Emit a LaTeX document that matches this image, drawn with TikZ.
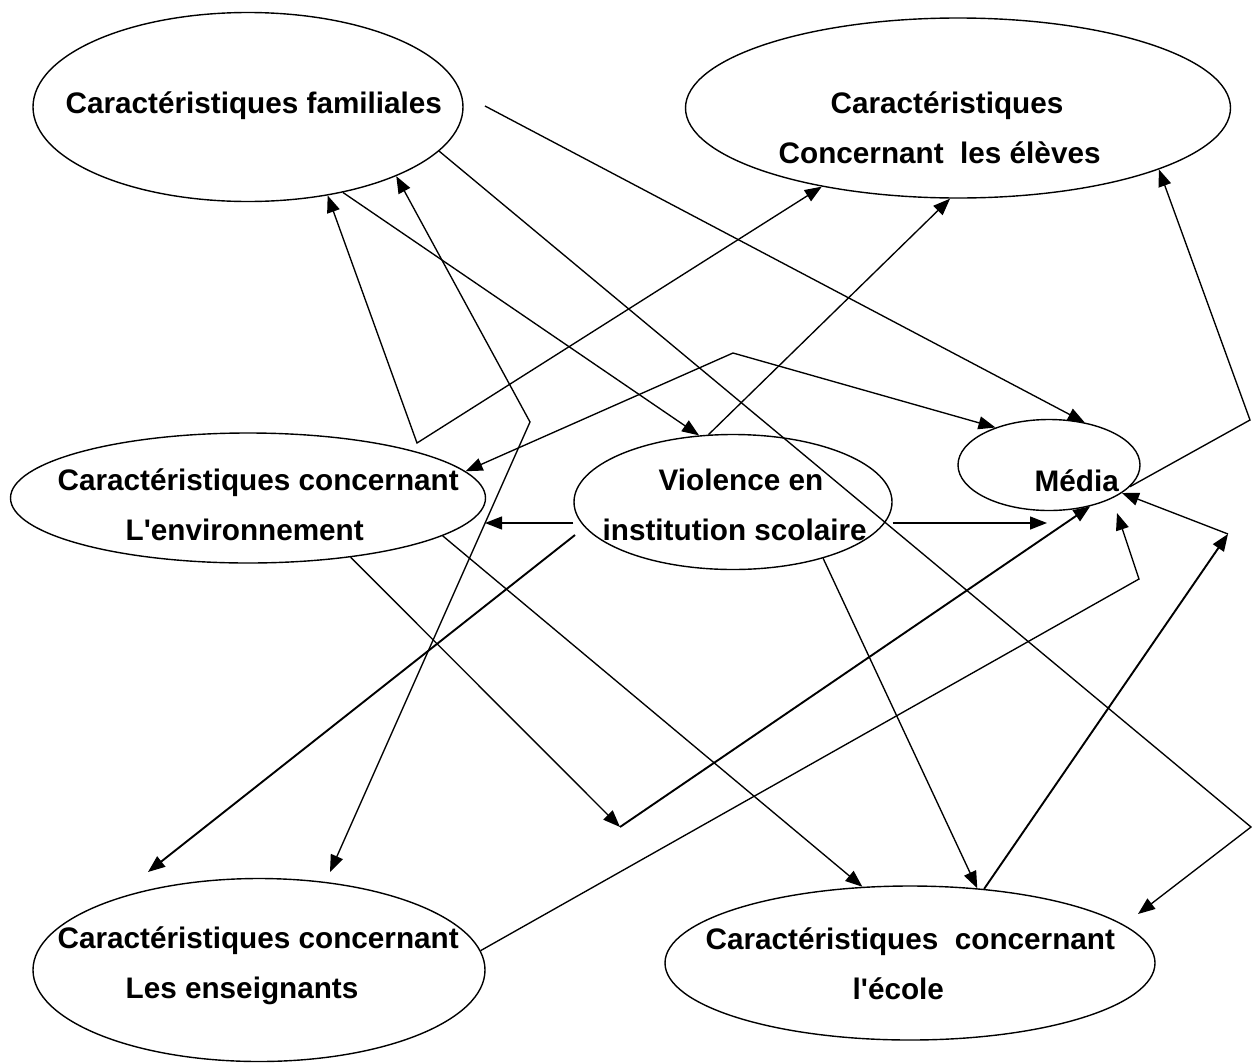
\documentclass[tikz,border=0pt]{standalone}
\usepackage{fontspec}
\setmainfont{Liberation Sans}[Ligatures=TeXOff]
\usetikzlibrary{shapes.geometric, arrows.meta}

\tikzset{
  blob/.style={draw, ellipse, inner sep=0pt, line width=1.4pt},
  txt/.style={font=\bfseries\fontsize{29.7}{50}\selectfont, align=left, inner sep=0pt, anchor=base west},
  heavy/.style={line width=1.9pt},
}

\begin{document}
\begin{tikzpicture}[x=1pt, y=-1pt, line width=1.35pt, >={Triangle[length=17pt,width=13pt]}]
    \useasboundingbox (0,0) rectangle (1252,1063);

    % ellipses
    \node[blob, minimum width=430pt, minimum height=189pt] (fam) at (248,107) {};
    \node[blob, minimum width=545pt, minimum height=180pt] (elv) at (958,108) {};
    \node[blob, minimum width=475pt, minimum height=130pt] (env) at (248,498) {};
    \node[blob, minimum width=318pt, minimum height=135pt] (vio) at (733,502) {};
    \node[blob, minimum width=182pt, minimum height=91pt] (med) at (1049,465) {};
    \node[blob, minimum width=452pt, minimum height=183pt] (ens) at (259,970) {};
    \node[blob, minimum width=490pt, minimum height=154pt] (eco) at (910,963) {};

    % texts (anchored on the last line)
    \node[txt] (famT) at (65,113) {Caractéristiques familiales};
    \node[txt] (elvT) at (778,163) {\hspace*{52pt}Caractéristiques\\Concernant\ \ les élèves};
    \node[txt] (envT) at (57,540) {Caractéristiques concernant\\\hspace*{68pt}L'environnement};
    \node[txt] (vioT) at (602,540) {\hspace*{56pt}Violence en\\institution scolaire};
    \node[txt] (medT) at (1034,491) {Média};
    \node[txt] (ensT) at (57,998) {Caractéristiques concernant\\\hspace*{68pt}Les enseignants};
    \node[txt] (ecoT) at (705,999) {Caractéristiques\ \ concernant\\\hspace*{147pt}l'école};

    % free ends and bends
    \coordinate (a0) at (485,106);
    \coordinate (b1) at (1251,827);
    \coordinate (b2) at (1138,914);
    \coordinate (d1) at (417,443);
    \coordinate (e1) at (530,422);
    \coordinate (e2) at (330,872);
    \coordinate (f1) at (733,353);
    \coordinate (h0) at (485,523);
    \coordinate (i0) at (1047,523);
    \coordinate (j0) at (575,535);
    \coordinate (j1) at (148,872);
    \coordinate (l1) at (620,827);
    \coordinate (n1) at (1139,579);
    \coordinate (n2) at (1117,513);
    \coordinate (o1) at (1228,534);
    \coordinate (p1) at (1250,420);

    \path[->]
    (a0) edge (med.50)
        (fam.-42) edge (vio.117)
    (vio.110) edge (elv.-95)
        (vio.west |- h0) edge (h0)
    (vio.east |- i0) edge (i0)
        (j0) edge[heavy] (j1)
    (vio.-32) edge (eco.48)
        (env.-11) edge (eco.122)
    (env.-30) edge (l1)
        (l1) edge[heavy] (med.-45)
    (eco.45) edge[heavy] (o1)
        (o1) edge (med.-21);

    \draw[->] (fam.-13) -- (b1) -- (b2);
    \draw[<->] (fam.-48) -- (d1) -- (elv.-150);
    \draw[<->] (fam.-25) -- (e1) -- (e2);
    \draw[<->] (env.7) -- (f1) -- (med.145);
    \draw[->] (ens.5) -- (n1) -- (n2);
    \draw[->] (med.-15) -- (p1) -- (elv.-17);
\end{tikzpicture}
\end{document}
